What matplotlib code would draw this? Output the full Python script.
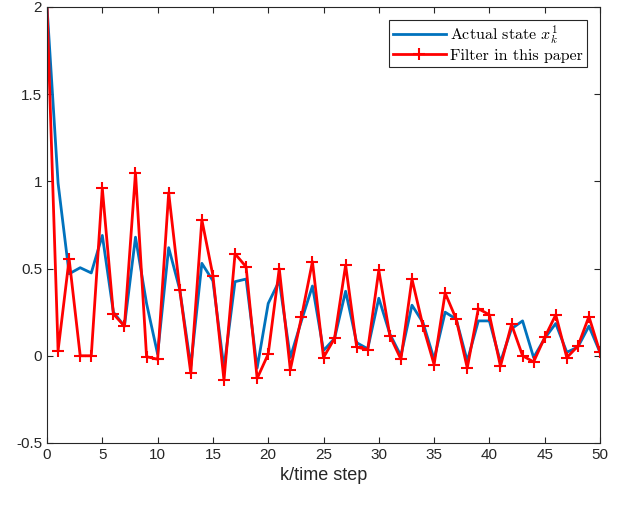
import matplotlib.pyplot as plt

plt.rcParams['mathtext.fontset'] = 'cm'

k = list(range(51))

actual_state = [2.0, 0.99, 0.47, 0.505, 0.475, 0.69, 0.25, 0.17, 0.68, 0.30,
                0.01, 0.62, 0.38, -0.06, 0.53, 0.43, -0.07, 0.425, 0.44, -0.07,
                0.30, 0.43, -0.01, 0.20, 0.40, 0.03, 0.10, 0.37, 0.075, 0.04,
                0.33, 0.125, 0.0, 0.29, 0.19, -0.02, 0.25, 0.21, -0.03, 0.20,
                0.20, -0.035, 0.155, 0.20, -0.01, 0.10, 0.185, 0.02, 0.05, 0.17,
                0.02]

filter_paper = [2.0, 0.03, 0.555, 0.0, 0.0, 0.96, 0.24, 0.17, 1.05, -0.005,
                -0.02, 0.935, 0.38, -0.10, 0.78, 0.46, -0.14, 0.585, 0.51, -0.13,
                0.01, 0.50, -0.08, 0.22, 0.54, -0.01, 0.10, 0.52, 0.05, 0.035,
                0.49, 0.115, -0.02, 0.44, 0.17, -0.05, 0.36, 0.21, -0.07, 0.27,
                0.235, -0.06, 0.18, 0.0, -0.035, 0.105, 0.235, -0.01, 0.055, 0.225,
                0.02]

fig = plt.figure(figsize=(6.22, 5.05), dpi=100)
ax = fig.add_axes([0.0756, 0.1228, 0.889, 0.8634])

ax.plot(k, actual_state, color='#0072BD', linewidth=2, label=r'Actual state $x_k^1$')
ax.plot(k, filter_paper, color='red', linewidth=2, marker='+', markersize=9,
        markeredgewidth=1.5, label='Filter in this paper')

ax.set_xlim(0, 50)
ax.set_ylim(-0.5, 2)
ax.set_xticks(range(0, 51, 5))
ax.set_yticks([-0.5, 0, 0.5, 1, 1.5, 2])
ax.set_yticklabels(['-0.5', '0', '0.5', '1', '1.5', '2'])

for side in ax.spines.values():
    side.set_color('#262626')
    side.set_linewidth(0.8)
ax.tick_params(direction='in', top=True, right=True, length=4, width=0.8,
               color='#262626', labelsize=11, labelcolor='#262626')
for lbl in ax.get_xticklabels() + ax.get_yticklabels():
    lbl.set_family('Liberation Sans')

ax.set_xlabel('k/time step', fontsize=13, family='Liberation Sans', color='#262626', labelpad=4)

leg = ax.legend(loc='upper right', prop={'family': 'cmr10', 'size': 11.5}, fancybox=False,
                edgecolor='#262626', framealpha=1, borderaxespad=0.8, handlelength=3.3,
                borderpad=0.25, labelspacing=0.15, handletextpad=0.3)
leg.get_frame().set_linewidth(0.8)

fig.savefig('out.png', dpi=100)
